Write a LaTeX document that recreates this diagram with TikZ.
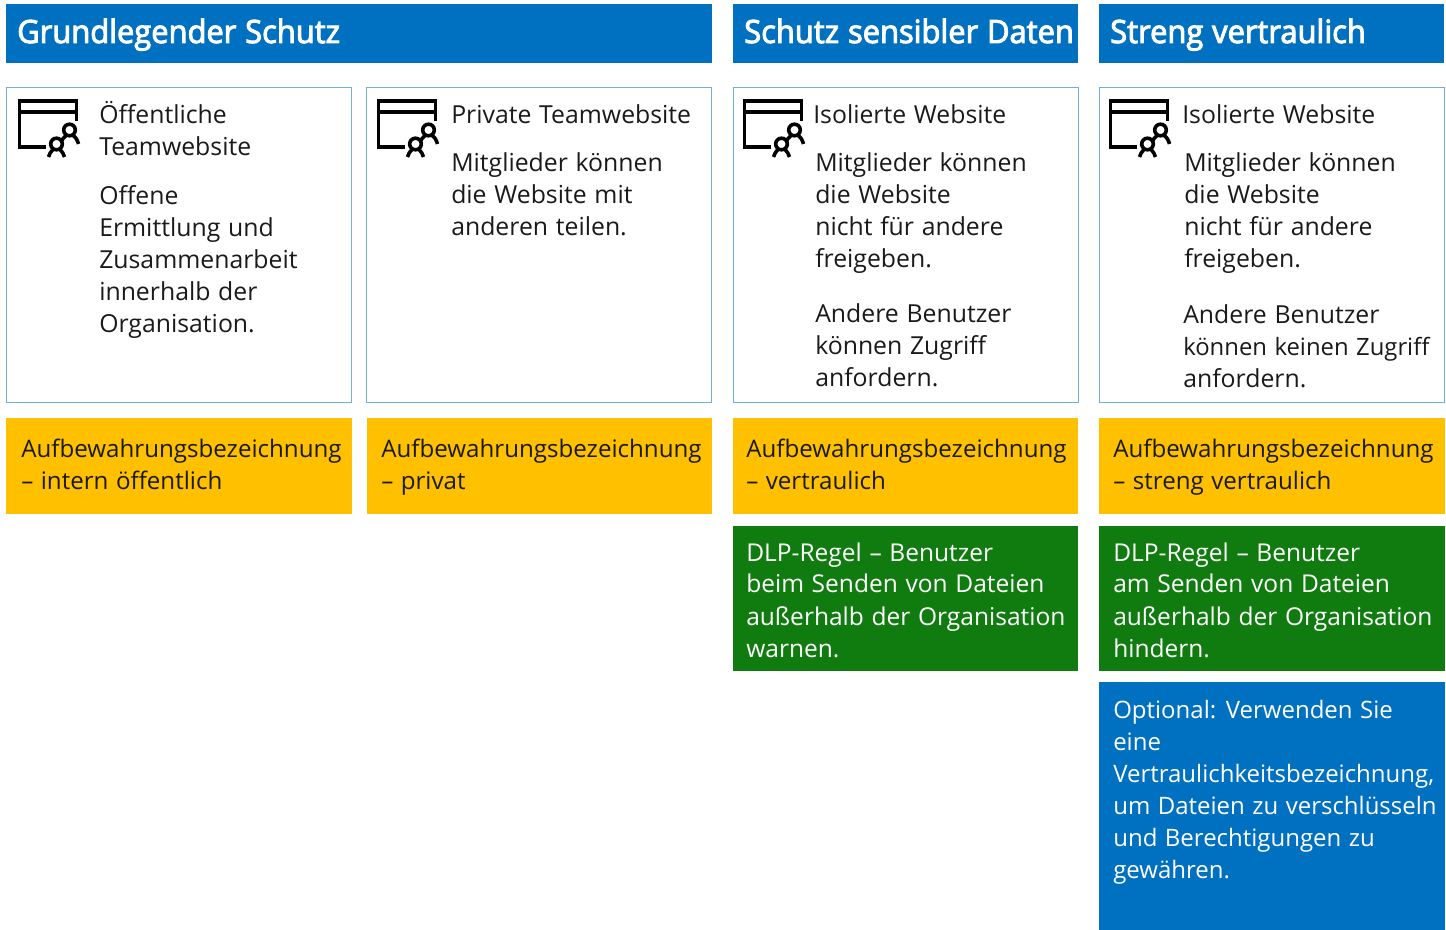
\documentclass[tikz,border=0pt]{standalone}
\usepackage{fontspec}
\setmainfont{Open Sans}[WordSpace=1.2]
\newfontfamily\headfont{Open Sans}[FakeBold=3,FakeStretch=0.965,WordSpace=1.1]
\definecolor{hblue}{HTML}{0070C1}
\definecolor{bordblue}{HTML}{6FAEDD}
\definecolor{amber}{HTML}{FFC000}
\definecolor{dgreen}{HTML}{107C10}
\definecolor{ink}{HTML}{1A1A1A}
\newcommand\tl[1]{\begin{tabular}[t]{@{}l@{}}#1\end{tabular}}
\tikzset{
 x=0.75pt,y=-0.75pt,
 head/.style={fill=hblue,draw=none},
 card/.style={draw=bordblue,line width=0.75pt,fill=white},
 amberbox/.style={fill=amber,draw=none},
 greenbox/.style={fill=dgreen,draw=none},
 bluebox/.style={fill=hblue,draw=none},
 txt/.style={anchor=base west,inner sep=0pt,text=ink,font=\fontsize{18.1pt}{24pt}\selectfont},
 ctxt/.style={txt,font=\fontsize{18.6pt}{24pt}\selectfont},
 gtxt/.style={txt,text=white,font=\fontsize{18.4pt}{24pt}\selectfont},
 btxt/.style={txt,text=white,font=\fontsize{18pt}{24pt}\selectfont},
 htxt/.style={anchor=base west,inner sep=0pt,text=white,font=\headfont\fontsize{24pt}{28pt}\selectfont},
 ico/.style={line width=2.3pt,draw=black,line cap=butt,line join=miter},
 per/.style={ico,line width=2.7pt},
 sitepic/.pic={
  \draw[ico] (58,21) -- (58,1) -- (1,1) -- (1,47) -- (27,47);
  \draw[ico] (1,12) -- (58,12);
  \draw[per] (51,30) circle (5.8);
  \draw[per] (43,41) .. controls (44,39) and (45,38) .. (47,36);
  \draw[per] (55,36) .. controls (57,37) and (59,40) .. (60,44);
  \draw[per] (38,44) circle (5.8);
  \draw[per] (30,57) .. controls (31,54) and (32,52) .. (34,50);
  \draw[per] (42,50) .. controls (44,52) and (45,54) .. (46,57);
 }
}
\begin{document}
\begin{tikzpicture}
\useasboundingbox (0,0) rectangle (1446,930);
% headers
\fill[head] (6,4) rectangle (712,63);
\fill[head] (733,4) rectangle (1078,63);
\fill[head] (1099,4) rectangle (1444,63);
\node[htxt] (h1) at (17,43) {Grundlegender Schutz};
\node[htxt] (h2) at (744,43) {Schutz sensibler Daten};
\node[htxt] (h3) at (1110,43) {Streng vertraulich};
% cards
\draw[card] (6.5,87.5) rectangle (351.5,403);
\draw[card] (366.5,87.5) rectangle (711.5,403);
\draw[card] (733,87.5) rectangle (1078,403);
\draw[card] (1099.5,87.5) rectangle (1444.5,403);
\pic at (18.5,100) {sitepic};
\pic at (377.5,100) {sitepic};
\pic at (743.5,100) {sitepic};
\pic at (1109.5,100) {sitepic};
% card text
\node[ctxt] (a1) at (99,124) {\tl{Öffentliche\\Teamwebsite}};
\node[ctxt] (a2) at (99,205) {\tl{Offene\\Ermittlung und\\Zusammenarbeit\\innerhalb der\\Organisation.}};
\node[ctxt] (b1) at (451,124) {Private Teamwebsite};
\node[ctxt] (b2) at (451,172) {\tl{Mitglieder können\\die Website mit\\anderen teilen.}};
\node[ctxt] (c1) at (813,124) {Isolierte Website};
\node[ctxt] (c2) at (815,172) {\tl{Mitglieder können\\die Website\\nicht für andere\\freigeben.}};
\node[ctxt] (c3) at (815,323) {\tl{Andere Benutzer\\können Zugriff\\anfordern.}};
\node[ctxt] (d1) at (1182,124) {Isolierte Website};
\node[ctxt] (d2) at (1184,172) {\tl{Mitglieder können\\die Website\\nicht für andere\\freigeben.}};
\node[ctxt] (d3) at (1183,324) {\tl{Andere Benutzer\\{\fontsize{17.9pt}{24pt}\selectfont können keinen Zugriff}\\anfordern.}};
% amber
\fill[amberbox] (6,418) rectangle (351.5,514);
\fill[amberbox] (366.5,418) rectangle (712,514);
\fill[amberbox] (733,418) rectangle (1078,514);
\fill[amberbox] (1099,418) rectangle (1444.5,514);
\node[txt] (e1) at (21,458) {\tl{Aufbewahrungsbezeichnung\\– intern öffentlich}};
\node[txt] (e2) at (381,458) {\tl{Aufbewahrungsbezeichnung\\– privat}};
\node[txt] (e3) at (746,458) {\tl{Aufbewahrungsbezeichnung\\– vertraulich}};
\node[txt] (e4) at (1113,458) {\tl{Aufbewahrungsbezeichnung\\– streng vertraulich}};
% green
\fill[greenbox] (733,526) rectangle (1078,671);
\fill[greenbox] (1099,526) rectangle (1444.5,671);
\node[gtxt] (f1) at (746,561) {\tl{DLP-Regel – Benutzer\\beim Senden von Dateien\\außerhalb der Organisation\\warnen.}};
\node[gtxt] (f2) at (1113,561) {\tl{DLP-Regel – Benutzer\\am Senden von Dateien\\außerhalb der Organisation\\hindern.}};
% blue
\fill[bluebox] (1099,682) rectangle (1444.5,930);
\node[btxt] (g) at (1113,718) {\tl{Optional: Verwenden Sie\\eine\\Vertraulichkeitsbezeichnung,\\um Dateien zu verschlüsseln\\und Berechtigungen zu\\gewähren.}};
\end{tikzpicture}
\end{document}
